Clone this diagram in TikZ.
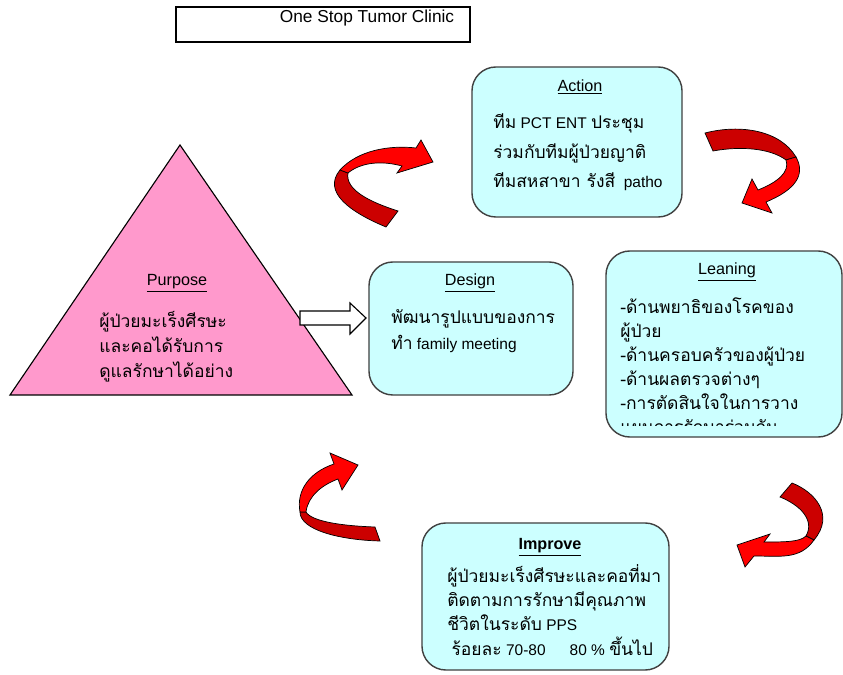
\documentclass[tikz,border=0pt]{standalone}
\usepackage{fontspec}
\setmainfont{Liberation Sans}
\newfontfamily\thaifont[Script=Thai,Scale=1.13]{Loma}
\newcommand{\tha}[1]{{\thaifont #1}}
\definecolor{stagefill}{HTML}{CCFFFF}
\definecolor{purposefill}{HTML}{FF99CC}
\definecolor{curlred}{HTML}{FF0000}
\definecolor{curldark}{HTML}{CC0000}
\tikzset{
  stage/.style={draw=black!75, fill=stagefill, line width=1pt, rounded corners=0.6cm},
  heading/.style={font=\fontsize{11.5}{13}\selectfont},
  body/.style={anchor=base west, align=left, inner sep=0pt},
  curl/.style={fill=curlred, draw=black, line width=0.5pt},
  curlback/.style={fill=curldark, draw=black, line width=0.5pt}
}

\begin{document}
\begin{tikzpicture}[x=0.025cm, y=-0.025cm]
	\useasboundingbox (0,0) rectangle (843,675);
	% title box
	\node[draw, line width=1pt, minimum width=7.35cm, minimum height=0.875cm] (clinic) at (323,24.5) {};
	\node[heading, font=\fontsize{12.3}{14}\selectfont] (clinictext) at (367,18) {One Stop Tumor Clinic};

	% purpose
	\coordinate (apex) at (180,145);
	\coordinate (baseL) at (10,395);
	\coordinate (baseR) at (352,395);
	\filldraw[fill=purposefill, draw=black, line width=0.8pt] (apex) -- (baseL) -- (baseR) -- cycle;
	\node[heading] (purpose) at (177,283) {\underline{Purpose}};
	% base of a multi-line node = last line
	\node[body, font=\fontsize{11}{17.8}\selectfont] (purposetext) at (99,378)
		{\tha{ผู้ป่วยมะเร็งศีรษะ}\\ \tha{และคอได้รับการ}\\ \tha{ดูแลรักษาได้อย่าง}};

	% block arrow
	\draw[line width=0.8pt, fill=white] (300,311) -- (350,311) -- (350,303) -- (366,318)
		-- (350,334) -- (350,325) -- (300,325) -- cycle;

	% stages
	\node[stage, minimum width=5.25cm, minimum height=3.75cm] (action) at (577,142) {};
	\node[heading] (actiontitle) at (580,87) {\underline{Action}};
	\node[body, font=\fontsize{11}{21.3}\selectfont] (actiontext) at (493,188)
		{\tha{ทีม} PCT ENT \tha{ประชุม}\\ \tha{ร่วมกับทีมผู้ป่วยญาติ}\\ \tha{ทีมสหสาขา รังสี}\ \ patho};

	\node[stage, minimum width=5.9cm, minimum height=4.65cm] (leaning) at (724,344) {};
	\node[heading] (leaningtitle) at (727,272) {\underline{Leaning}};
	\begin{scope}
		\clip (606,251) rectangle (843,426);
		\node[body, font=\fontsize{11}{17.1}\selectfont] (leaningtext) at (620,434)
			{\tha{-ด้านพยาธิของโรคของ}\\ \tha{ผู้ป่วย}\\ \tha{-ด้านครอบครัวของผู้ป่วย}\\
			 \tha{-ด้านผลตรวจต่างๆ}\\ \tha{-การตัดสินใจในการวาง}\\ \tha{แผนการรักษาร่วมกัน}};
	\end{scope}

	\node[stage, minimum width=5.1cm, minimum height=3.325cm] (design) at (471,328.5) {};
	\node[heading] (designtitle) at (470,283) {\underline{Design}};
	\node[body, font=\fontsize{11}{19.2}\selectfont] (designtext) at (391,350)
		{\tha{พัฒนารูปแบบของการ}\\ \tha{ทำ} family meeting};

	\node[stage, minimum width=6.175cm, minimum height=3.675cm] (improve) at (545.5,596.5) {};
	\node[heading] (improvetitle) at (550,547) {\textbf{\underline{Improve}}};
	\node[body, font=\fontsize{11}{17.1}\selectfont] (improvetext) at (447,655)
		{\tha{ผู้ป่วยมะเร็งศีรษะและคอที่มา}\\ \tha{ติดตามการรักษามีคุณภาพ}\\
		 \tha{ชีวิตในระดับ} PPS\\ \ \tha{ร้อยละ} 70-80\quad\ \ 80 \% \tha{ขึ้นไป}};

	% curled arrows
	\filldraw[curlback] (386,227) .. controls (350,212) and (322,192) .. (340,170) -- (348,173)
		.. controls (345,190) and (370,202) .. (398,211) -- cycle;
	\filldraw[curl] (340,170) .. controls (358,150) and (390,145) .. (416,148) -- (421,140) -- (433,162)
		-- (397,173) -- (402,166) .. controls (380,160) and (360,163) .. (348,173) -- cycle;

	\filldraw[curlback] (705,133) .. controls (740,124) and (780,130) .. (796,157) -- (786,160)
		.. controls (770,148) and (740,146) .. (713,151) -- cycle;
	\filldraw[curl] (796,157) .. controls (806,175) and (795,190) .. (766,202) -- (772,213) -- (742,203)
		-- (752,179) -- (758,190) .. controls (778,182) and (790,172) .. (786,160) -- cycle;

	\filldraw[curlback] (300,512) .. controls (300,530) and (340,540) .. (380,541) -- (375,527)
		.. controls (345,526) and (312,522) .. (306,512) -- cycle;
	\filldraw[curl] (300,512) .. controls (296,490) and (310,472) .. (334,464) -- (330,453) -- (358,465)
		-- (342,490) -- (338,479) .. controls (322,485) and (308,496) .. (306,512) -- cycle;

	\filldraw[curlback] (792,483) .. controls (815,492) and (835,515) .. (814,540) -- (806,536)
		.. controls (815,520) and (800,505) .. (780,497) -- cycle;
	\filldraw[curl] (814,540) .. controls (800,560) and (780,556) .. (754,556) -- (745,567) -- (737,545)
		-- (770,534) -- (764,542) .. controls (785,542) and (800,542) .. (806,536) -- cycle;
\end{tikzpicture}
\end{document}
